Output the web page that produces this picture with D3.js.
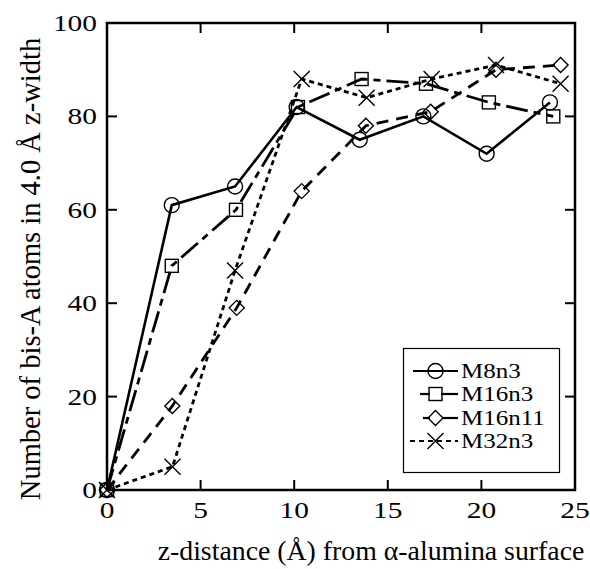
<!DOCTYPE html>
<html><head><meta charset="utf-8">
<script src="https://cdn.jsdelivr.net/npm/d3@7"></script>
<style>body{margin:0;background:#fff}svg{display:block}</style>
</head><body><svg id="c" width="590" height="569"></svg>
<script>
// ---- data ----
const seriesNames = ["M8n3", "M16n3", "M16n11", "M32n3"];
const xM8n3   = [0, 3.46, 6.84, 10.13, 13.5, 16.9, 20.28, 23.66];
const yM8n3   = [0, 61, 65, 82, 75, 80, 72, 83];
const xM16n3  = [0, 3.46, 6.89, 10.2, 13.6, 17.04, 20.4, 23.84];
const yM16n3  = [0, 48, 60, 82, 88, 87, 83, 80];
const xM16n11 = [0, 3.49, 6.93, 10.4, 13.83, 17.29, 20.78, 24.23];
const yM16n11 = [0, 18, 39, 64, 78, 81, 90, 91];
const xM32n3  = [0, 3.5, 6.84, 10.4, 13.87, 17.34, 20.78, 24.23];
const yM32n3  = [0, 5, 47, 88, 84, 88, 91, 87];
const xTicks = [0, 5, 10, 15, 20, 25];
const yTicks = [0, 20, 40, 60, 80, 100];
const xTitle = "z-distance (Å) from α-alumina surface";
const yTitle = "Number of bis-A atoms in 4.0 Å z-width";

const FONT = "Liberation Serif";
const svg = d3.select("#c");
const L = 107, R = 575, T = 23, B = 490;
const x = d3.scaleLinear().domain([0, 25]).range([L, R]);
const y = d3.scaleLinear().domain([0, 100]).range([B, T]);

const styles = {
  M8n3:   {dash: null,          sym: "circle"},
  M16n3:  {dash: "22,6,7,6",    sym: "square"},
  M16n11: {dash: "12,8",        sym: "diamond"},
  M32n3:  {dash: "5,4",         sym: "x"}
};
const data = {
  M8n3: xM8n3.map((d,i)=>[d, yM8n3[i]]),
  M16n3: xM16n3.map((d,i)=>[d, yM16n3[i]]),
  M16n11: xM16n11.map((d,i)=>[d, yM16n11[i]]),
  M32n3: xM32n3.map((d,i)=>[d, yM32n3[i]])
};

function txt(sel) { return sel.append("text").attr("font-family", FONT).attr("fill", "#000"); }

// frame
svg.append("rect").attr("x", L).attr("y", T).attr("width", R-L).attr("height", B-T)
  .attr("fill", "none").attr("stroke", "#000").attr("stroke-width", 2.5);

// axes with inward ticks
const tickLen = 10;
const ax = svg.append("g");
xTicks.forEach(t => {
  ax.append("line").attr("x1", x(t)).attr("x2", x(t)).attr("y1", B).attr("y2", B - tickLen).attr("stroke", "#000").attr("stroke-width", 2);
  ax.append("line").attr("x1", x(t)).attr("x2", x(t)).attr("y1", T).attr("y2", T + tickLen).attr("stroke", "#000").attr("stroke-width", 2);
  const s = String(t);
  txt(ax).attr("x", x(t)).attr("y", 518).attr("text-anchor", "middle")
    .attr("font-size", 23).attr("textLength", s.length * 14.7).attr("lengthAdjust", "spacingAndGlyphs").text(s);
});
yTicks.forEach(t => {
  ax.append("line").attr("x1", L).attr("x2", L + tickLen).attr("y1", y(t)).attr("y2", y(t)).attr("stroke", "#000").attr("stroke-width", 2);
  ax.append("line").attr("x1", R).attr("x2", R - tickLen).attr("y1", y(t)).attr("y2", y(t)).attr("stroke", "#000").attr("stroke-width", 2);
  const s = String(t);
  txt(ax).attr("x", 97).attr("y", y(t) + 8).attr("text-anchor", "end")
    .attr("font-size", 23).attr("textLength", s.length * 14.7).attr("lengthAdjust", "spacingAndGlyphs").text(s);
});

// titles
txt(svg).attr("x", 371).attr("y", 560).attr("text-anchor", "middle")
  .attr("font-size", 27.8).text(xTitle);
txt(svg).attr("transform", "translate(40,269) rotate(-90)").attr("text-anchor", "middle")
  .attr("font-size", 28.5).text(yTitle);

// symbols
function drawSym(g, type, cx, cy) {
  const sw = 1.4;
  if (type === "circle") {
    g.append("circle").attr("cx", cx).attr("cy", cy).attr("r", 7.5).attr("fill", "none").attr("stroke", "#000").attr("stroke-width", sw);
  } else if (type === "square") {
    g.append("rect").attr("x", cx - 6.5).attr("y", cy - 6.5).attr("width", 13).attr("height", 13).attr("fill", "none").attr("stroke", "#000").attr("stroke-width", sw);
  } else if (type === "diamond") {
    g.append("path").attr("d", `M${cx},${cy-7.5}L${cx+7.5},${cy}L${cx},${cy+7.5}L${cx-7.5},${cy}Z`).attr("fill", "none").attr("stroke", "#000").attr("stroke-width", sw);
  } else {
    const h = 8;
    g.append("path").attr("d", `M${cx-h},${cy-h}L${cx+h},${cy+h}M${cx-h},${cy+h}L${cx+h},${cy-h}`).attr("fill", "none").attr("stroke", "#000").attr("stroke-width", sw);
  }
}

const line = d3.line().x(d => x(d[0])).y(d => y(d[1]));
const plot = svg.append("g");
seriesNames.slice().reverse().forEach(name => {
  const st = styles[name];
  plot.append("path").datum(data[name]).attr("d", line).attr("fill", "none")
    .attr("stroke", "#000").attr("stroke-width", name === "M8n3" ? 2.6 : 2.8)
    .attr("stroke-dasharray", st.dash);
  data[name].forEach(d => drawSym(plot, st.sym, x(d[0]), y(d[1])));
});

// legend
const lg = svg.append("g");
lg.append("rect").attr("x", 403.5).attr("y", 348.5).attr("width", 156).attr("height", 124)
  .attr("fill", "#fff").attr("stroke", "#000").attr("stroke-width", 1.2);
const legY = [371, 394, 418, 441];
const legLines = {
  M8n3: [[413, 458]],
  M16n3: [[420, 430], [441, 458]],
  M16n11: [[423, 430], [442, 458]],
  M32n3: [[410, 458]]
};
seriesNames.forEach((name, i) => {
  const st = styles[name];
  const cy = legY[i];
  legLines[name].forEach(seg => {
    lg.append("line").attr("x1", seg[0]).attr("x2", seg[1]).attr("y1", cy).attr("y2", cy)
      .attr("stroke", "#000").attr("stroke-width", 2.2)
      .attr("stroke-dasharray", name === "M32n3" ? "5,4" : null);
  });
  drawSym(lg, st.sym, 435.5, cy);
  txt(lg).attr("transform", `translate(461,${cy + 7}) scale(1.25,1)`)
    .attr("font-size", 20).text(name);
});
</script></body></html>
